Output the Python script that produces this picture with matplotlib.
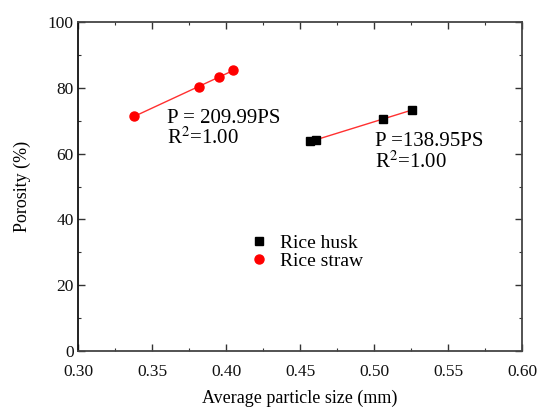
import numpy as np
import matplotlib
matplotlib.use("Agg")
import matplotlib.pyplot as plt
from matplotlib.ticker import MultipleLocator

husk_x = [0.457, 0.461, 0.506, 0.526]
husk_y = [63.8, 64.1, 70.5, 73.3]
straw_x = [0.338, 0.382, 0.395, 0.405]
straw_y = [71.4, 80.2, 83.3, 85.4]

plt.rcParams['font.family'] = ['Liberation Serif', 'DejaVu Serif']
plt.rcParams['mathtext.fontset'] = 'stix'

fig = plt.figure(figsize=(5.44, 4.08), dpi=100)
ax = fig.add_axes([78/544, 1-351/408, (522-78)/544, (351-22)/408])

for xs, ys in [(straw_x, straw_y), (husk_x, husk_y)]:
    k, b = np.polyfit(xs, ys, 1)
    xx = np.array([min(xs), max(xs)])
    ax.plot(xx, k*xx + b, color='#ff3030', lw=1.0, zorder=2)

ax.plot(husk_x, husk_y, 's', color='black', ms=5.5, ls='none', label='Rice husk', zorder=3)
ax.plot(straw_x, straw_y, 'o', color='red', ms=6.5, ls='none', label='Rice straw', zorder=3)

ax.set_xlim(0.30, 0.60)
ax.set_ylim(0, 100)
ax.xaxis.set_major_locator(MultipleLocator(0.05))
ax.xaxis.set_minor_locator(MultipleLocator(0.025))
ax.yaxis.set_major_locator(MultipleLocator(20))
ax.yaxis.set_minor_locator(MultipleLocator(10))
ax.set_xticklabels([f"{v:.2f}" for v in ax.get_xticks()])
ax.tick_params(which='both', direction='in', top=True, right=True, labelsize=12.5, colors='#333333', labelcolor='#111111')
ax.tick_params(which='major', length=5, width=1)
ax.tick_params(which='minor', length=2.5, width=0.8)
ax.tick_params(axis='x', pad=9)
ax.tick_params(axis='y', pad=3)
for s in ax.spines.values():
    s.set_color('#444444')
    s.set_linewidth(1.3)
ax.spines['left'].set_color('#111111')

ax.set_xlabel('Average particle size (mm)', fontsize=13, labelpad=7)
ax.set_ylabel('Porosity (%)', fontsize=13, labelpad=12)

ax.text(0.360, 70.8, 'P = 209.99PS', fontsize=15, va='center', ha='left')
ax.text(0.360, 64.6, 'R$^2$=1.00', fontsize=15, va='center', ha='left')
ax.text(0.5005, 63.8, 'P =138.95PS', fontsize=15, va='center', ha='left')
ax.text(0.5005, 57.4, 'R$^2$=1.00', fontsize=15, va='center', ha='left')

ax.legend(loc='upper left', bbox_to_anchor=(0.354, 0.395), frameon=False, fontsize=14,
          handlelength=1.0, handletextpad=0.6, labelspacing=0.0, borderpad=0.2)

fig.savefig('out.png', dpi=100)
